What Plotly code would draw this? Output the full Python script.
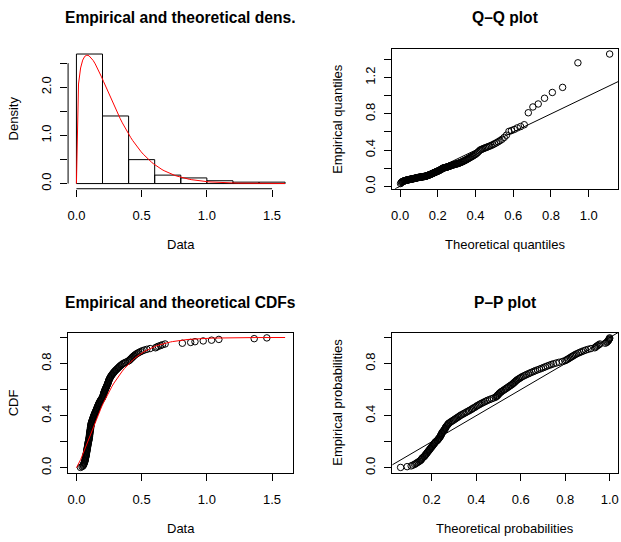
import numpy as np
import plotly.graph_objects as go

# ---- sample values (sorted), read from the empirical CDF / Q-Q / P-P panels ----
data = [
    0.031, 0.043, 0.050, 0.053, 0.056, 0.058, 0.060, 0.062, 0.064, 0.066,
    0.067, 0.068, 0.069, 0.070, 0.072, 0.073, 0.074, 0.075, 0.076, 0.077,
    0.078, 0.079, 0.080, 0.081, 0.082, 0.083, 0.084, 0.085, 0.086, 0.087,
    0.088, 0.089, 0.090, 0.091, 0.092, 0.094, 0.095, 0.096, 0.097, 0.098,
    0.099, 0.100, 0.100, 0.101, 0.102, 0.102, 0.103, 0.104, 0.105, 0.106,
    0.107, 0.108, 0.108, 0.109, 0.110, 0.111, 0.112, 0.113, 0.114, 0.116,
    0.118, 0.120, 0.122, 0.124, 0.126, 0.128, 0.130, 0.132, 0.134, 0.136,
    0.139, 0.141, 0.144, 0.146, 0.149, 0.151, 0.154, 0.156, 0.158, 0.161,
    0.163, 0.165, 0.168, 0.170, 0.173, 0.176, 0.179, 0.182, 0.185, 0.189, 0.193, 0.197,
    0.201, 0.203, 0.205, 0.206, 0.208, 0.209, 0.211, 0.213,
    0.215, 0.218, 0.220, 0.223, 0.225, 0.228, 0.230, 0.233, 0.235, 0.238,
    0.240, 0.242, 0.244, 0.246, 0.248, 0.250, 0.253, 0.256, 0.259, 0.262,
    0.266, 0.270, 0.274, 0.279, 0.283, 0.288, 0.293, 0.298, 0.304, 0.310,
    0.316, 0.322, 0.328, 0.334, 0.341, 0.348, 0.356, 0.366, 0.377, 0.391,
    0.402, 0.408, 0.414, 0.420, 0.426, 0.432, 0.438, 0.445, 0.452, 0.460,
    0.470, 0.480, 0.492, 0.505, 0.520, 0.540, 0.565,
    0.606, 0.616, 0.628, 0.645, 0.660, 0.680,
    0.812, 0.876, 0.909, 0.972, 1.036, 1.092, 1.363, 1.460,
]

# fitted distribution (Weibull) parameters
weibull_shape = 1.27
weibull_scale = 0.277

# histogram breaks and curve extent
hist_start, hist_end, hist_width = 0.0, 1.6, 0.2

# tick values / labels
dens_xticks = [0.0, 0.5, 1.0, 1.5]
dens_xlabels = ["0.0", "0.5", "1.0", "1.5"]
dens_yticks = [0.0, 0.5, 1.0, 1.5, 2.0, 2.5]
dens_ylabels = ["0.0", "", "1.0", "", "2.0", ""]
qq_xticks = [0.0, 0.2, 0.4, 0.6, 0.8, 1.0]
qq_xlabels = ["0.0", "0.2", "0.4", "0.6", "0.8", "1.0"]
qq_yticks = [0.0, 0.2, 0.4, 0.6, 0.8, 1.0, 1.2, 1.4]
qq_ylabels = ["0.0", "", "0.4", "", "0.8", "", "1.2", ""]
cdf_xticks = [0.0, 0.5, 1.0, 1.5]
cdf_xlabels = ["0.0", "0.5", "1.0", "1.5"]
cdf_yticks = [0.0, 0.2, 0.4, 0.6, 0.8, 1.0]
cdf_ylabels = ["0.0", "", "0.4", "", "0.8", ""]
pp_xticks = [0.2, 0.4, 0.6, 0.8, 1.0]
pp_xlabels = ["0.2", "0.4", "0.6", "0.8", "1.0"]
pp_yticks = [0.0, 0.2, 0.4, 0.6, 0.8, 1.0]
pp_ylabels = ["0.0", "", "0.4", "", "0.8", ""]

# ---- derived quantities (as in fitdistrplus' plot of a fit) ----
s = np.sort(np.array(data))
n = len(s)
obsp = (np.arange(1, n + 1) - 0.5) / n                      # ppoints
k, lam = weibull_shape, weibull_scale
theoq = lam * (-np.log(1 - obsp)) ** (1 / k)                # theoretical quantiles
theop = 1 - np.exp(-(s / lam) ** k)                         # theoretical probabilities
sfin = np.linspace(hist_start, hist_end, 101)
theod = (k / lam) * (sfin / lam) ** (k - 1) * np.exp(-(sfin / lam) ** k)
theocdf = 1 - np.exp(-(sfin / lam) ** k)

dens, _ = np.histogram(s, bins=np.arange(hist_start, hist_end + 1e-9, hist_width), density=True)
ymax = max(dens.max(), theod.max())


def rrange(lo, hi):
    d = hi - lo
    return [lo - 0.04 * d, hi + 0.04 * d]


r_dx = rrange(hist_start, hist_end)
r_dy = rrange(0, ymax)
r_qx = rrange(theoq.min(), theoq.max())
r_qy = rrange(s.min(), s.max())
r_cx = rrange(hist_start, hist_end)
r_cy = rrange(obsp.min(), obsp.max())
r_px = rrange(theop.min(), theop.max())
r_py = rrange(obsp.min(), obsp.max())

W, H = 621, 542
FONT = "Liberation Sans, Arial, Helvetica, sans-serif"
xL = [67.3 / W, 293.4 / W]
xR = [392.5 / W, 619.0 / W]
yT = [1 - 190.5 / H, 1 - 49.3 / H]
yB = [1 - 477.0 / H, 1 - 335.8 / H]

marker = dict(symbol="circle-open", size=6.5, color="black", line=dict(width=1, color="black"))

fig = go.Figure()
fig.add_trace(go.Histogram(
    x=s, xbins=dict(start=hist_start, end=hist_end, size=hist_width),
    histnorm="probability density",
    marker=dict(color="rgba(255,255,255,0)", line=dict(color="black", width=1)),
    xaxis="x", yaxis="y", hoverinfo="skip"))
fig.add_trace(go.Scatter(x=sfin, y=theod, mode="lines", line=dict(color="#FF0000", width=1),
                         xaxis="x", yaxis="y"))

lo = max(r_qx[0], r_qy[0]); hi = min(r_qx[1], r_qy[1])
fig.add_trace(go.Scatter(x=[lo, hi], y=[lo, hi], mode="lines", line=dict(color="black", width=1),
                         xaxis="x2", yaxis="y2"))
fig.add_trace(go.Scatter(x=theoq, y=s, mode="markers", marker=marker, xaxis="x2", yaxis="y2"))

fig.add_trace(go.Scatter(x=s, y=obsp, mode="markers", marker=marker, xaxis="x3", yaxis="y3"))
fig.add_trace(go.Scatter(x=sfin, y=theocdf, mode="lines", line=dict(color="#FF0000", width=1),
                         xaxis="x3", yaxis="y3"))

lo = max(r_px[0], r_py[0]); hi = min(r_px[1], r_py[1])
fig.add_trace(go.Scatter(x=[lo, hi], y=[lo, hi], mode="lines", line=dict(color="black", width=1),
                         xaxis="x4", yaxis="y4"))
fig.add_trace(go.Scatter(x=theop, y=obsp, mode="markers", marker=marker, xaxis="x4", yaxis="y4"))


def ax(domain, anchor, rng, tv, tt, box, vertical=False):
    d = dict(domain=domain, anchor=anchor, range=rng, tickmode="array", tickvals=tv, ticktext=tt,
             ticks="outside", ticklen=7, tickwidth=1, tickcolor="black",
             showgrid=False, zeroline=False, showline=box, mirror=box, linecolor="black", linewidth=1,
             tickfont=dict(family=FONT, size=13, color="black"), fixedrange=True)
    if vertical:
        d["tickangle"] = -90
        d["ticklabelstandoff"] = 4
    else:
        d["tickangle"] = 0
        d["ticklabelstandoff"] = 8
    return d


fig.update_layout(
    width=W, height=H, margin=dict(l=0, r=0, t=0, b=0),
    paper_bgcolor="white", plot_bgcolor="white", showlegend=False, bargap=0,
    xaxis=ax(xL, "y", r_dx, dens_xticks, dens_xlabels, False),
    yaxis=ax(yT, "x", r_dy, dens_yticks, dens_ylabels, False, True),
    xaxis2=ax(xR, "y2", r_qx, qq_xticks, qq_xlabels, True),
    yaxis2=ax(yT, "x2", r_qy, qq_yticks, qq_ylabels, True, True),
    xaxis3=ax(xL, "y3", r_cx, cdf_xticks, cdf_xlabels, True),
    yaxis3=ax(yB, "x3", r_cy, cdf_yticks, cdf_ylabels, True, True),
    xaxis4=ax(xR, "y4", r_px, pp_xticks, pp_xlabels, True),
    yaxis4=ax(yB, "x4", r_py, pp_yticks, pp_ylabels, True, True),
)

# R-style axis lines for the histogram panel (only over the tick range)
fig.add_shape(type="line", xref="x", yref="y domain", x0=dens_xticks[0], x1=dens_xticks[-1], y0=0, y1=0,
              line=dict(color="black", width=1))
fig.add_shape(type="line", xref="x domain", yref="y", x0=0, x1=0, y0=dens_yticks[0], y1=dens_yticks[-1],
              line=dict(color="black", width=1))


def ann(text, xpx, ypx, size=13, bold=False, angle=0):
    fig.add_annotation(text=("<b>%s</b>" % text) if bold else text, x=xpx / W, y=1 - ypx / H,
                       xref="paper", yref="paper", xanchor="center", yanchor="middle",
                       showarrow=False, textangle=angle,
                       font=dict(family=FONT, size=size, color="black"))


cxL = (67.3 + 293.4) / 2
cxR = (392.5 + 619.0) / 2
cyT = (49.3 + 190.5) / 2
cyB = (335.8 + 477.0) / 2
ann("Empirical and theoretical dens.", cxL, 18.0, 15.6, True)
ann("Q\u2013Q plot", cxR, 18.0, 15.6, True)
ann("Empirical and theoretical CDFs", cxL, 305.3, 15.6, True)
ann("P\u2013P plot", cxR, 305.3, 15.6, True)
ann("Data", cxL, 246.8)
ann("Theoretical quantiles", cxR, 246.8)
ann("Data", cxL, 533.8)
ann("Theoretical probabilities", cxR, 533.8)
ann("Density", 12.7, cyT, angle=-90)
ann("Empirical quantiles", 338.1, cyT, angle=-90)
ann("CDF", 12.7, cyB, angle=-90)
ann("Empirical probabilities", 338.1, cyB, angle=-90)

fig.write_html("out.html", config={"displayModeBar": False, "staticPlot": True},
               post_script="document.body.style.margin='0';document.body.style.overflow='hidden';")
